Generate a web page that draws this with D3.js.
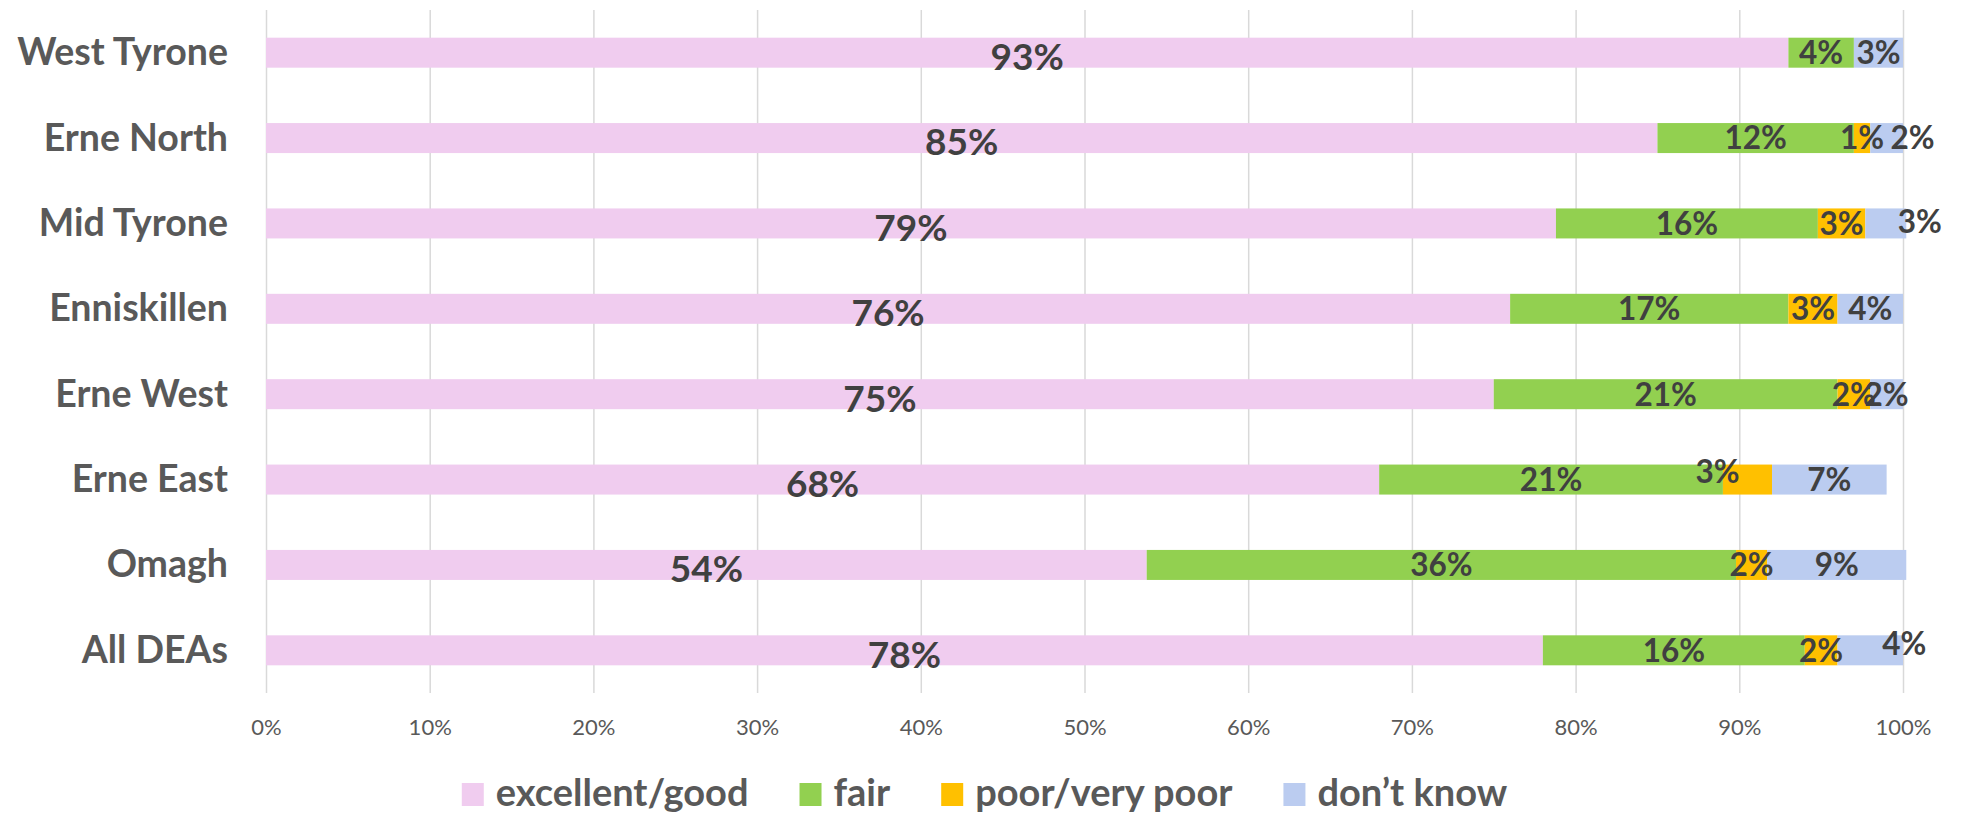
<!DOCTYPE html>
<html>
<head>
<meta charset="utf-8">
<script src="https://cdn.jsdelivr.net/npm/d3@7"></script>
<style>
  html, body { margin: 0; padding: 0; background: #ffffff; }
  svg { display: block; }
</style>
</head>
<body>
<svg id="chart" width="1969" height="814"></svg>
<script>
// ---- data ----
const categories = ["West Tyrone", "Erne North", "Mid Tyrone", "Enniskillen", "Erne West", "Erne East", "Omagh", "All DEAs"];
const seriesNames = ["excellent/good", "fair", "poor/very poor", "don’t know"];
const excellentGood = [93, 85, 78.8, 76, 75, 68, 53.8, 78];
const fair = [4, 12, 16, 17, 21, 21, 36, 16];
const poorVeryPoor = [0, 1, 2.9, 3, 2, 3, 1.9, 2];
const dontKnow = [3, 2, 2.5, 4, 2, 7, 8.5, 4];
const tickValues = [0, 10, 20, 30, 40, 50, 60, 70, 80, 90, 100];

// ---- styling ----
const colors = ["#F0CCEF", "#92D050", "#FFC000", "#BBCCF0"];
const labelNudge = { "Erne North|3": [26, 0], "Mid Tyrone|3": [34, -2], "Erne East|2": [-30, -8], "All DEAs|3": [34, -7] };
const FONT = "Lato, 'Open Sans', sans-serif";

const svg = d3.select("#chart");
const x = d3.scaleLinear().domain([0, 100]).range([266, 1903]);
const y = d3.scaleBand().domain(categories).range([10, 693]).paddingInner(0.6486).paddingOuter(0.3243);

// gridlines
svg.append("g")
  .attr("transform", "translate(0,693)")
  .call(d3.axisBottom(x).tickValues(tickValues).tickSize(-683).tickFormat(""))
  .call(g => g.select(".domain").remove())
  .call(g => g.selectAll("line").attr("stroke", "#D9D9D9").attr("stroke-width", 1.5));

// tick labels
svg.append("g")
  .attr("transform", "translate(0,693)")
  .call(d3.axisBottom(x).tickValues(tickValues).tickSize(0).tickFormat(d => d + "%"))
  .call(g => g.select(".domain").remove())
  .call(g => g.selectAll("text")
    .attr("y", 42).attr("dy", null)
    .attr("fill", "#595959")
    .style("font-family", FONT).style("font-size", "22px"));

// category labels
svg.append("g")
  .attr("transform", "translate(228,0)")
  .call(d3.axisLeft(y).tickSize(0).tickPadding(0))
  .call(g => g.select(".domain").remove())
  .call(g => g.selectAll("text")
    .attr("dy", null).attr("y", 12.5)
    .attr("fill", "#595959")
    .style("font-family", FONT).style("font-size", "37.5px").style("font-weight", "700"));

// stacked bars
const seriesData = [excellentGood, fair, poorVeryPoor, dontKnow];
const rows = categories.map((c, i) => {
  let acc = 0;
  return seriesData.map((s, k) => {
    const v = s[i];
    const seg = { cat: c, k, v, x0: acc, x1: acc + v };
    acc += v;
    return seg;
  });
});
const segs = rows.flat();

svg.append("g").selectAll("rect")
  .data(segs.filter(d => d.v > 0))
  .join("rect")
  .attr("x", d => x(d.x0))
  .attr("y", d => y(d.cat))
  .attr("width", d => x(d.x1) - x(d.x0))
  .attr("height", y.bandwidth())
  .attr("fill", d => colors[d.k]);

// data labels
svg.append("g").selectAll("text")
  .data(segs.filter(d => d.v > 0))
  .join("text")
  .attr("text-anchor", "middle")
  .attr("x", d => {
    const n = labelNudge[d.cat + "|" + d.k];
    return (x(d.x0) + x(d.x1)) / 2 + (n ? n[0] : 0);
  })
  .attr("y", d => {
    const n = labelNudge[d.cat + "|" + d.k];
    const c = y(d.cat) + y.bandwidth() / 2;
    const fs = d.k === 0 ? 37 : 31.5;
    return c + (d.k === 0 ? 4 : 0) + 0.36 * fs + (n ? n[1] : 0);
  })
  .attr("fill", "#404040")
  .style("font-family", FONT)
  .style("font-weight", "700")
  .style("font-size", d => d.k === 0 ? "37px" : "31.5px")
  .text(d => Math.round(d.v) + "%");

// legend
const legend = svg.append("g");
const items = legend.selectAll("g").data(seriesNames).join("g");
items.append("rect").attr("width", 22).attr("height", 23).attr("y", 783).attr("fill", (d, i) => colors[i]);
items.append("text")
  .attr("x", 34).attr("y", 806)
  .attr("fill", "#595959")
  .style("font-family", FONT).style("font-weight", "700").style("font-size", "38px")
  .text(d => d);
const widths = [];
items.each(function() { widths.push(34 + this.querySelector("text").getComputedTextLength()); });
const gap = 51;
const total = d3.sum(widths) + gap * (widths.length - 1);
let cx = 1969 / 2 - total / 2;
items.attr("transform", (d, i) => { const t = `translate(${cx},0)`; cx += widths[i] + gap; return t; });
</script>
</body>
</html>
